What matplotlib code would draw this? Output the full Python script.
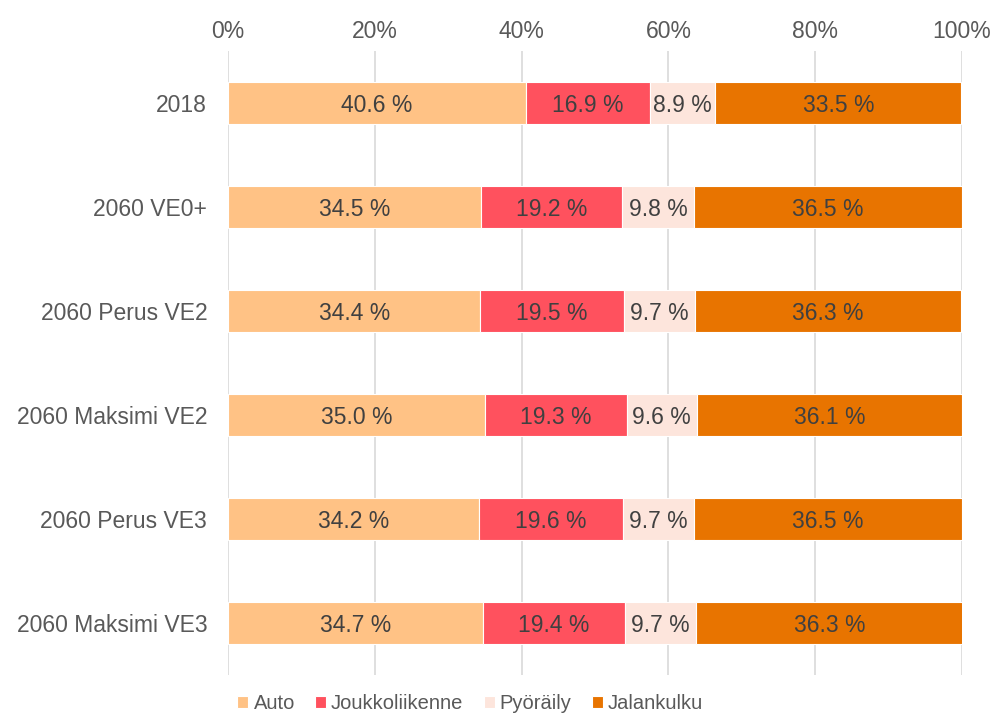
import matplotlib.pyplot as plt
import numpy as np

plt.rcParams['font.family'] = ['Liberation Sans', 'DejaVu Sans']

kategoriat = ["2018", "2060 VE0+", "2060 Perus VE2", "2060 Maksimi VE2",
              "2060 Perus VE3", "2060 Maksimi VE3"]
auto = [40.6, 34.5, 34.4, 35.0, 34.2, 34.7]
joukkoliikenne = [16.9, 19.2, 19.5, 19.3, 19.6, 19.4]
pyoraily = [8.9, 9.8, 9.7, 9.6, 9.7, 9.7]
jalankulku = [33.5, 36.5, 36.3, 36.1, 36.5, 36.3]

sarjat = [
    ("Auto", auto, "#FFC285"),
    ("Joukkoliikenne", joukkoliikenne, "#FF515E"),
    ("Pyöräily", pyoraily, "#FDE5DC"),
    ("Jalankulku", jalankulku, "#E87400"),
]

fig = plt.figure(figsize=(9.93, 7.17), dpi=100)
ax = fig.add_axes([0.2296, 0.0586, 0.7392, 0.8703])

y = np.arange(len(kategoriat))
vasen = np.zeros(len(kategoriat))
for nimi, arvot, vari in sarjat:
    arvot = np.array(arvot)
    osuus = arvot / 100.0
    ax.barh(y, osuus, left=vasen, height=0.4, color=vari, label=nimi,
            edgecolor="white", linewidth=0.8, zorder=2)
    for yi, v, l in zip(y, arvot, vasen):
        ax.text(l + v / 200.0, yi, f"{v:.1f} %", ha="center",
                va="center_baseline", fontsize=16.5, color="#404040", zorder=3)
    vasen = vasen + osuus

ax.set_xlim(0, 1)
ax.set_ylim(len(kategoriat) - 0.5, -0.5)
ax.set_yticks(y)
ax.set_yticklabels(kategoriat)
ax.set_xticks(np.linspace(0, 1, 6))
ax.set_xticklabels([f"{int(t * 100)}%" for t in np.linspace(0, 1, 6)])
ax.xaxis.tick_top()
ax.tick_params(axis="both", length=0, labelsize=16.5, labelcolor="#595959")
ax.tick_params(axis="x", pad=6)
ax.tick_params(axis="y", pad=15)
ax.grid(axis="x", color="#D9D9D9", linewidth=1.2, zorder=0)
for s in ax.spines.values():
    s.set_visible(False)

ax.legend(loc="upper center", bbox_to_anchor=(0.33, -0.002), ncol=4,
          frameon=False, fontsize=14.5, handlelength=0.55, handleheight=0.55,
          handletextpad=0.25, columnspacing=1.0, labelcolor="#595959")

fig.savefig("out.png", dpi=100)
